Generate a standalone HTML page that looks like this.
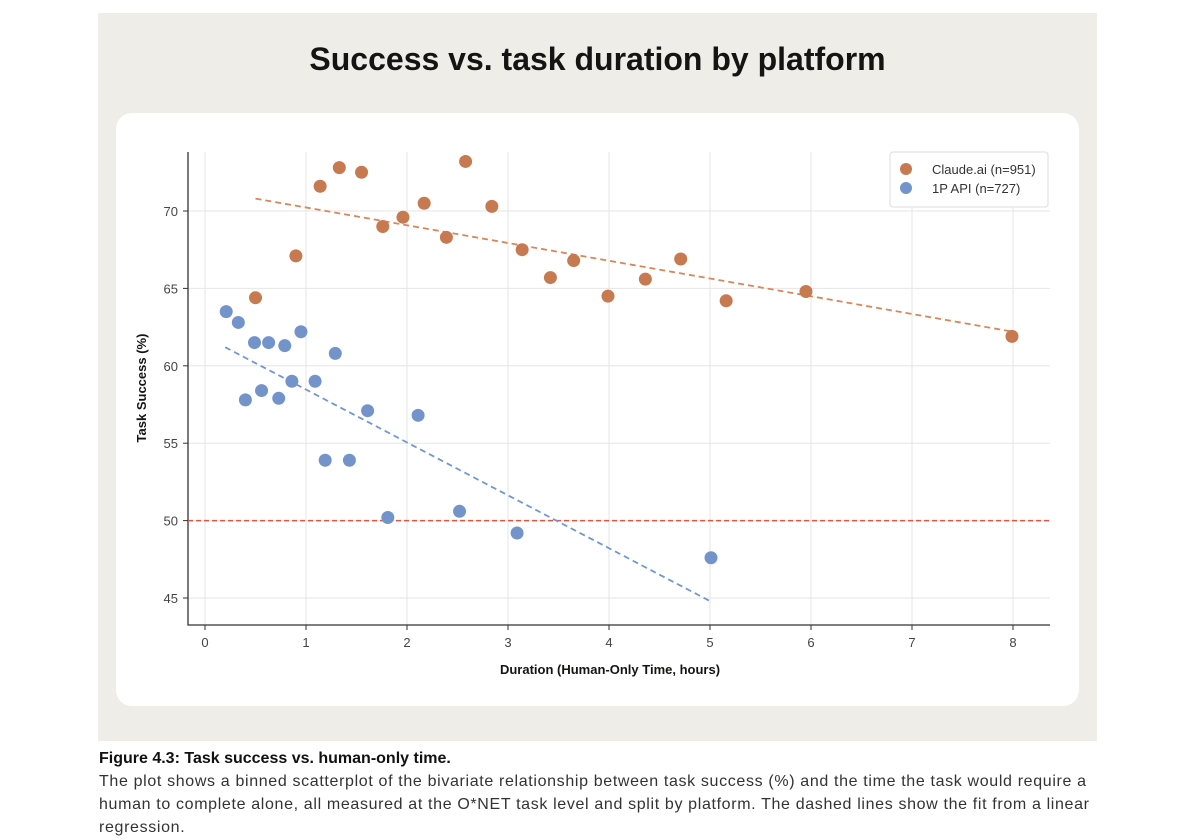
<!DOCTYPE html>
<html><head><meta charset="utf-8"><style>
body{margin:0;width:1200px;height:840px;background:#fff;font-family:"Liberation Sans",sans-serif;overflow:hidden;position:relative}
#panel{position:absolute;left:98px;top:13px;width:999px;height:728px;background:#eeede8}
#title{position:absolute;left:0;width:999px;top:28px;text-align:center;font-size:32px;font-weight:bold;color:#141413}
#card{position:absolute;left:18px;top:100px;width:963px;height:593px;background:#fff;border-radius:16px}
#cap{position:absolute;left:99px;top:747px;width:1100px;font-size:16px;line-height:23px;color:#333;white-space:nowrap}
#cap b{color:#111}
</style></head><body>
<div id="panel">
<div id="title">Success vs. task duration by platform</div>
<div id="card"></div>
</div>
<svg id="chart" width="1200" height="840" style="position:absolute;left:0;top:0"></svg>
<div id="cap"><b>Figure 4.3: Task success vs. human-only time.</b><br><span style="letter-spacing:0.65px">The plot shows a binned scatterplot of the bivariate relationship between task success (%) and the time the task would require a<br>human to complete alone, all measured at the O*NET task level and split by platform. The dashed lines show the fit from a linear<br>regression.</span></div>
<script>
const xTicks=[0,1,2,3,4,5,6,7,8];
const yTicks=[45,50,55,60,65,70];
const claudeX=[0.50,0.90,1.14,1.33,1.55,1.76,1.96,2.17,2.39,2.58,2.84,3.14,3.42,3.65,3.99,4.36,4.71,5.16,5.95,7.99];
const claudeY=[64.4,67.1,71.6,72.8,72.5,69.0,69.6,70.5,68.3,73.2,70.3,67.5,65.7,66.8,64.5,65.6,66.9,64.2,64.8,61.9];
const apiX=[0.21,0.33,0.40,0.49,0.56,0.63,0.73,0.79,0.86,0.95,1.09,1.19,1.29,1.43,1.61,1.81,2.11,2.52,3.09,5.01];
const apiY=[63.5,62.8,57.8,61.5,58.4,61.5,57.9,61.3,59.0,62.2,59.0,53.9,60.8,53.9,57.1,50.2,56.8,50.6,49.2,47.6];
const claudeFitX=[0.5,8.0], claudeFitY=[70.8,62.2];
const apiFitX=[0.2,5.0], apiFitY=[61.2,44.8];
const refY=50;
const NS='http://www.w3.org/2000/svg';
const svg=document.getElementById('chart');
const L=188,R=1050,T=152,B=625;
const sx=v=>205+v*101.0;
const sy=v=>211+(70-v)*15.48;
function mk(t,a){const e=document.createElementNS(NS,t);for(const k in a)e.setAttribute(k,a[k]);svg.appendChild(e);return e;}
xTicks.forEach(t=>{
 const g=mk('line',{x1:sx(t),x2:sx(t),y1:T,y2:B,stroke:'#e6e6e6','stroke-width':1});
 
 
 mk('line',{x1:sx(t),x2:sx(t),y1:B,y2:B+5,stroke:'#333'});
 const tx=mk('text',{x:sx(t),y:B+22,'text-anchor':'middle','font-size':13,fill:'#444'});tx.textContent=t;
 
 
});
yTicks.forEach(t=>{
 const g=mk('line',{x1:L,x2:R,y1:sy(t),y2:sy(t),stroke:'#e6e6e6','stroke-width':1});
 
 
 mk('line',{x1:L-5,x2:L,y1:sy(t),y2:sy(t),stroke:'#333'});
 const tx=mk('text',{x:L-10,y:sy(t)+5,'text-anchor':'end','font-size':13,fill:'#444'});tx.textContent=t;
 
 
});
const ax=mk('path',{d:`M${L} ${T}V${B}H${R}`,fill:'none',stroke:'#333','stroke-width':1.3});


const ref=mk('line',{x1:L,x2:R,y1:sy(refY),y2:sy(refY),stroke:'#e0553f','stroke-width':1.5,'stroke-dasharray':'5,3'});


function fit(xs,ys,c,n){const l=mk('line',{x1:sx(xs[0]),y1:sy(ys[0]),x2:sx(xs[1]),y2:sy(ys[1]),stroke:c,'stroke-width':1.8,'stroke-dasharray':'6,4'});
 
 }
fit(claudeFitX,claudeFitY,'#d9865a','claude-fit-line');
fit(apiFitX,apiFitY,'#6f98d6','api-fit-line');
function pts(xs,ys,c,n){xs.forEach((x,i)=>{const p=mk('circle',{cx:sx(x),cy:sy(ys[i]),r:6.5,fill:c});
 
 });}
pts(claudeX,claudeY,'#c7794f','claude-point');
pts(apiX,apiY,'#7394cb','api-point');
const xl=mk('text',{x:610,y:674,'text-anchor':'middle','font-size':13,'font-weight':'bold',fill:'#141413'});xl.textContent='Duration (Human-Only Time, hours)';


const yl=mk('text',{x:0,y:0,'text-anchor':'middle','font-size':13,'font-weight':'bold',fill:'#141413',transform:'translate(146,388) rotate(-90)'});yl.textContent='Task Success (%)';


const lg=mk('rect',{x:890,y:152,width:158,height:55,rx:3,fill:'#fff',stroke:'#ddd'});


[['Claude.ai (n=951)','#c7794f',169],['1P API (n=727)','#7394cb',188]].forEach(([t,c,y])=>{
 mk('circle',{cx:906,cy:y,r:6,fill:c});
 const tx=mk('text',{x:932,y:y+5,'font-size':13,fill:'#333'});tx.textContent=t;
 
 
});
</script>
</body></html>
